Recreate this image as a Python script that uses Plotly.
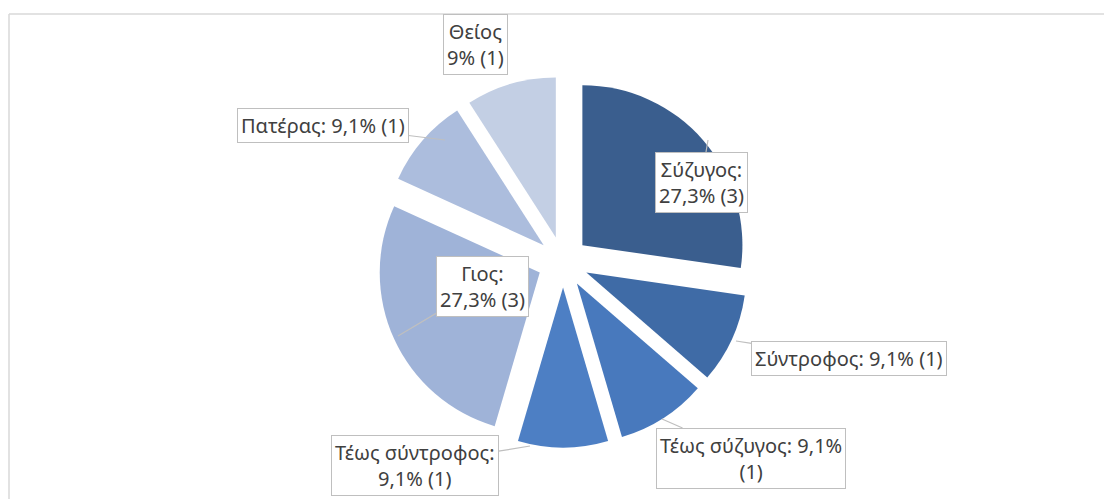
import plotly.graph_objects as go

# data
labels = ["Σύζυγος", "Σύντροφος", "Τέως σύζυγος", "Τέως σύντροφος", "Γιος", "Πατέρας", "Θείος"]
counts = [3, 1, 1, 1, 3, 1, 1]
pct_text = ["27,3%", "9,1%", "9,1%", "9,1%", "27,3%", "9,1%", "9%"]
colors = ["#3a5e8e", "#3f6ba6", "#4879bd", "#4d7fc4", "#9fb3d8", "#acbddd", "#c3cfe4"]

W, H = 1104, 499

fig = go.Figure(go.Pie(
    labels=labels, values=counts,
    sort=False, direction="clockwise", rotation=0,
    pull=[0.16] * len(counts),
    marker=dict(colors=colors, line=dict(width=0)),
    textinfo="none", hoverinfo="label+value+percent",
    domain=dict(x=[0.2, 0.82], y=[0.103, 0.847]),
    showlegend=False,
))

# callout boxes: (text layout, box centre px, leader tip px or None)
callouts = [
    ("{l}:<br>{p} ({n})", (701, 182), (708, 140)),
    ("{l}: {p} ({n})", (849, 358), (736, 341)),
    ("{l}: {p}<br>({n})", (751, 458), (662, 419)),
    ("{l}:<br>{p} ({n})", (415, 465), (530, 446)),
    ("{l}:<br>{p} ({n})", (482, 286), (398, 336)),
    ("{l}: {p} ({n})", (323, 125), (445, 140)),
    ("{l}<br>{p} ({n})", (475, 45), None),
]

for (fmt, box, tip), lab, p, n in zip(callouts, labels, pct_text, counts):
    txt = fmt.format(l=lab, p=p, n=n)
    common = dict(
        text=txt, xref="paper", yref="paper",
        font=dict(family="Noto Sans", size=20, color="#404040"),
        bgcolor="white", bordercolor="#bfbfbf", borderwidth=1, borderpad=3,
        align="center",
    )
    if tip is None:
        fig.add_annotation(x=box[0] / W, y=1 - box[1] / H, showarrow=False,
                           xanchor="center", yanchor="middle", **common)
    else:
        fig.add_annotation(
            x=tip[0] / W, y=1 - tip[1] / H,
            ax=box[0] - tip[0], ay=box[1] - tip[1],
            showarrow=True, arrowhead=0, arrowwidth=1.2, arrowcolor="#bfbfbf",
            **common)

# chart frame (right and bottom edges fall outside the crop)
fig.add_shape(type="line", xref="paper", yref="paper",
              x0=9 / W, x1=1, y0=1 - 14 / H, y1=1 - 14 / H,
              line=dict(color="#d9d9d9", width=1.5))
fig.add_shape(type="line", xref="paper", yref="paper",
              x0=9 / W, x1=9 / W, y0=0, y1=1 - 14 / H,
              line=dict(color="#d9d9d9", width=1.5))

fig.update_layout(
    width=W, height=H,
    margin=dict(l=0, r=0, t=0, b=0),
    paper_bgcolor="white", plot_bgcolor="white",
)
fig.write_html("out.html", config={"displayModeBar": False},
               post_script="document.body.style.margin='0';")
